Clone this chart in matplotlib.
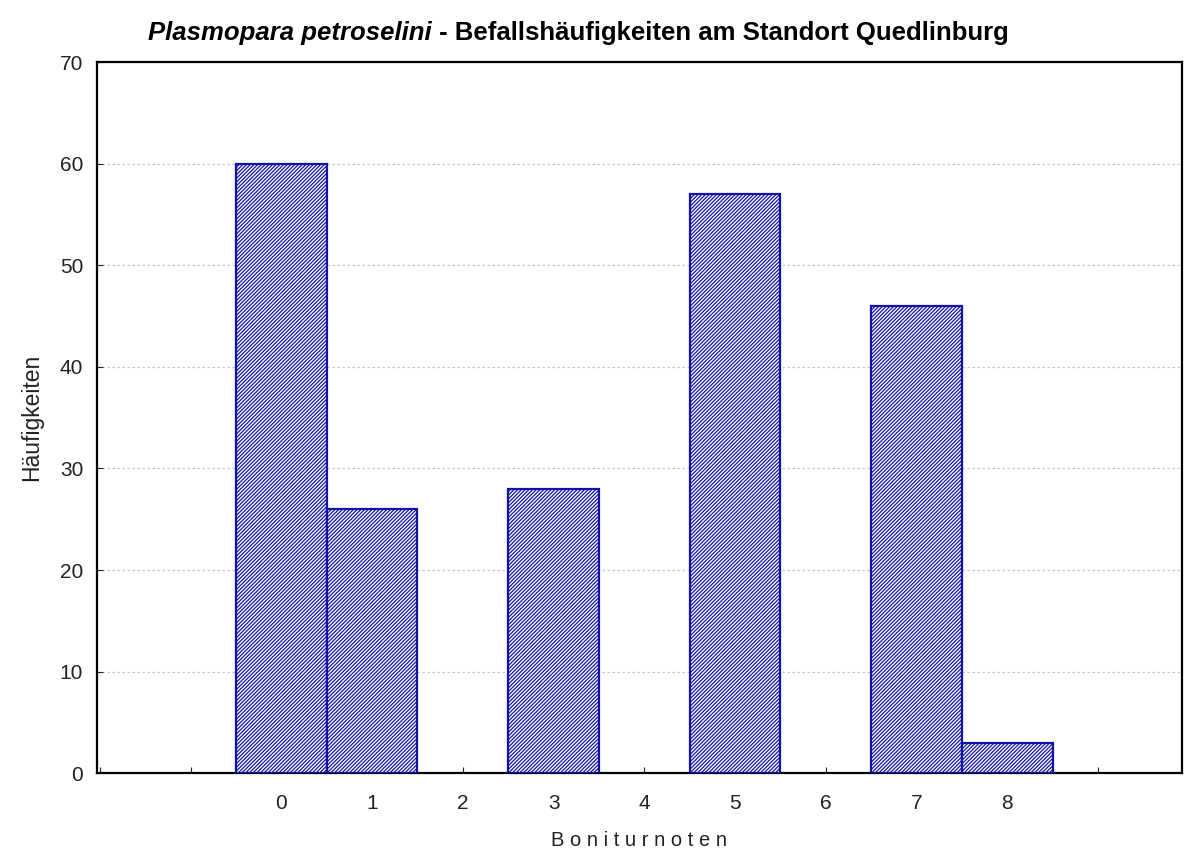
import matplotlib
matplotlib.use("Agg")
import matplotlib.pyplot as plt

plt.rcParams['font.family'] = ['Liberation Sans', 'DejaVu Sans']
plt.rcParams['hatch.linewidth'] = 0.9

noten = [0, 1, 2, 3, 4, 5, 6, 7, 8]
haeufigkeiten = [60, 26, 0, 28, 0, 57, 0, 46, 3]

fig = plt.figure(figsize=(11.84, 8.63), dpi=100)
ax = fig.add_axes([0.082, 0.104, 0.916, 0.824])

# leere Klassen nicht zeichnen
xs = [n for n, h in zip(noten, haeufigkeiten) if h > 0]
hs = [h for h in haeufigkeiten if h > 0]
ax.bar(xs, hs, width=1.0, color='white', edgecolor='#1212a8',
       hatch='/////////', linewidth=1.6, zorder=3)

ax.set_xlim(-2.03, 9.92)
ax.set_ylim(0, 70)
ax.set_xticks(range(-2, 10))
ax.set_xticklabels(['', ''] + [str(n) for n in noten] + [''])
ax.set_yticks(range(0, 71, 10))
ax.tick_params(direction='in', length=4, labelsize=15, pad=10, colors='#222222')
ax.tick_params(axis='x', pad=15)
ax.yaxis.grid(True, color='#c8c8c8', linestyle=(0, (2, 2)), linewidth=0.9)
ax.set_axisbelow(True)
for s in ax.spines.values():
    s.set_linewidth(1.6)

ax.set_xlabel("B o n i t u r n o t e n", fontsize=14.5, labelpad=13, color='#222222')
ax.set_ylabel("Häufigkeiten", fontsize=16.5, labelpad=12, color='#222222')

t1 = fig.text(0.125, 0.962, "Plasmopara petroselini", fontsize=18.5,
              fontweight='bold', style='italic', va='center')
ax.annotate(" - Befallshäufigkeiten am Standort Quedlinburg", xy=(1, 0.5),
            xycoords=t1, va='center', fontsize=18.5, fontweight='bold')

fig.savefig("out.png", dpi=100)
